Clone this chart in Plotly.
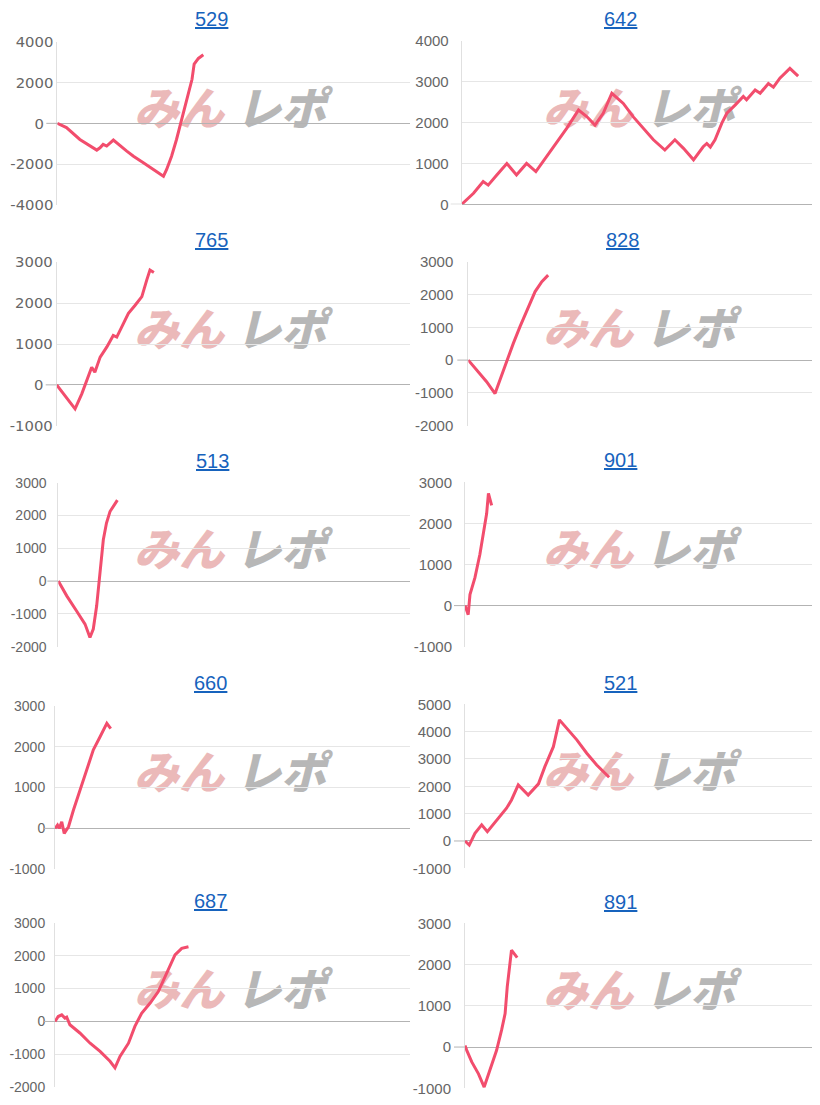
import plotly.graph_objects as go

W, H = 820, 1105
OFF = 8  # page body margin: screen px = figure px + OFF

# ---------------- data (x = progress along the axis, 0-100; y = 差枚) ----------------
titles = ["529", "642", "765", "828", "513", "901", "660", "521", "687", "891"]

x_529 = [0, 2.6, 6.4, 8.8, 11.2, 12.1, 13.0, 14.0, 15.9, 19.7, 21.6, 24.4, 27.2, 30.1, 31.0, 32.4, 33.8, 35.3, 36.7, 38.2, 38.8, 40.0, 41.4]
y_529 = [0, -210, -790, -1070, -1310, -1200, -1030, -1110, -820, -1360, -1610, -1930, -2260, -2590, -2260, -1610, -790, 200, 1180, 2160, 2900, 3180, 3360]

x_642 = [0, 3.3, 6.0, 7.4, 9.8, 12.6, 15.3, 18.1, 20.7, 23.7, 26.5, 29.3, 32.6, 34.9, 37.2, 39.5, 41.9, 45.1, 47.9, 50.7, 53.5, 56.7, 59.5, 61.9, 64.7, 67.4, 68.4, 69.4, 70.7, 72.6, 74.0, 76.3, 78.6, 79.5, 81.9, 83.3, 85.6, 87.0, 88.8, 91.6, 93.9]
y_642 = [0, 270, 555, 470, 720, 1000, 720, 1000, 800, 1170, 1490, 1860, 2310, 2150, 1940, 2230, 2720, 2470, 2140, 1860, 1580, 1330, 1580, 1370, 1090, 1410, 1490, 1400, 1580, 1990, 2230, 2430, 2640, 2560, 2800, 2720, 2960, 2870, 3090, 3330, 3140]

x_765 = [0, 2.4, 5.2, 7.1, 8.5, 9.9, 10.8, 12.3, 14.2, 16.0, 17.0, 18.4, 20.3, 22.2, 24.1, 25.5, 26.4, 27.5]
y_765 = [0, -260, -590, -220, 110, 430, 310, 680, 930, 1210, 1170, 1420, 1750, 1950, 2160, 2570, 2810, 2750]

x_828 = [0, 2.4, 5.2, 7.6, 9.0, 10.9, 12.8, 14.7, 17.1, 19.0, 20.9, 22.7]
y_828 = [0, -305, -660, -1020, -610, 0, 510, 1020, 1630, 2090, 2390, 2590]

x_513 = [0, 2.4, 5.2, 7.6, 9.0, 9.95, 10.9, 11.8, 12.8, 13.7, 14.7, 16.8]
y_513 = [0, -450, -910, -1310, -1720, -1460, -760, 250, 1260, 1770, 2120, 2470]

x_901 = [0, 0.9, 1.4, 2.8, 4.2, 5.2, 6.1, 6.6, 7.5]
y_901 = [0, -220, 270, 680, 1250, 1750, 2240, 2730, 2440]

x_660 = [0, 0.7, 1.2, 1.9, 2.6, 3.8, 5.2, 7.0, 8.9, 10.8, 12.7, 14.6, 15.7]
y_660 = [0, 80, 0, 160, -120, 40, 450, 940, 1430, 1920, 2240, 2570, 2440]

x_521 = [0, 1.2, 2.8, 4.7, 6.3, 8.9, 11.7, 13.1, 15.0, 17.8, 20.7, 22.5, 24.9, 26.6, 28.6, 31.5, 34.3, 37.1, 40.6]
y_521 = [0, -150, 280, 590, 340, 770, 1200, 1500, 2050, 1680, 2090, 2720, 3450, 4430, 4120, 3700, 3210, 2780, 2330]

x_687 = [0, 0.9, 1.9, 2.8, 3.3, 3.8, 4.2, 7.0, 9.9, 12.7, 15.5, 16.9, 18.3, 20.7, 22.5, 24.4, 26.8, 29.1, 31.5, 33.8, 35.7, 37.6]
y_687 = [0, 150, 200, 100, 130, 0, -100, -350, -660, -910, -1210, -1410, -1060, -660, -150, 250, 560, 910, 1460, 2020, 2220, 2270]

x_891 = [0, 0.5, 1.9, 3.8, 5.4, 7.0, 8.9, 10.3, 11.3, 11.9, 12.7, 13.1, 14.7]
y_891 = [40, -80, -360, -650, -970, -570, -80, 410, 810, 1460, 2110, 2350, 2170]

series_x = [x_529, x_642, x_765, x_828, x_513, x_901, x_660, x_521, x_687, x_891]
series_y = [y_529, y_642, y_765, y_828, y_513, y_901, y_660, y_521, y_687, y_891]

y_ranges = [(-4000, 4000), (0, 4000), (-1000, 3000), (-2000, 3000), (-2000, 3000),
            (-1000, 3000), (-1000, 3000), (-1000, 5000), (-2000, 3000), (-1000, 3000)]
y_steps = [2000, 1000, 1000, 1000, 1000, 1000, 1000, 1000, 1000, 1000]

# ---------------- layout geometry (screen pixels) ----------------
# left axis x, right edge, top, bottom, title center x, title y, label standoff, label style
geom = [
    (57.3, 410, 41.7, 205.0, 211.7, 19.5, 0, "wide"),
    (461.7, 820, 41.0, 204.3, 620.7, 19.5, 9, "norm"),
    (56.7, 410, 262.3, 425.7, 211.0, 240.0, 0, "wide"),
    (468.3, 820, 261.7, 425.7, 622.7, 240.0, 11, "norm"),
    (58.3, 410, 482.7, 646.7, 212.7, 460.7, 8, "small"),
    (465.0, 820, 482.3, 646.7, 620.0, 460.0, 9, "norm"),
    (55.0, 410, 705.7, 869.3, 210.0, 683.3, 6, "small"),
    (465.0, 820, 704.3, 868.3, 620.0, 682.7, 10, "norm"),
    (55.0, 410, 922.7, 1087.3, 210.0, 900.7, 6, "small"),
    (465.0, 820, 923.3, 1088.3, 620.0, 901.7, 10, "norm"),
]

LINE = "#f24d6d"
GRID = "#e6e6e6"
ZERO = "#b3b3b3"
AXISLINE = "#e0e0e0"
TICKC = "#666666"
TITLEC = "#1763bd"
PINK = "#ebb9b9"
GREY = "#b7b7b7"

fig = go.Figure()
layout = dict(
    width=W, height=H,
    margin=dict(l=0, r=0, t=0, b=0, pad=0, autoexpand=False),
    paper_bgcolor="white",
    plot_bgcolor="rgba(0,0,0,0)",
    showlegend=False,
    annotations=[], shapes=[],
)

def px_x(p):
    return (p - OFF) / W

def px_y(p):
    return 1 - (p - OFF) / H

for i in range(10):
    n = i + 1
    xa = "x" if n == 1 else f"x{n}"
    ya = "y" if n == 1 else f"y{n}"
    left, right, top, bot, tx, ty, standoff, style = geom[i]
    lo, hi = y_ranges[i]
    step = y_steps[i]
    tv = list(range(lo, hi + 1, step))
    if style == "wide":
        tt = [("0\u00a0\u00a0" if v == 0 else str(v)) for v in tv]
        tfont = dict(family="DejaVu Sans", size=14.8, color=TICKC)
    elif style == "small":
        tt = [str(v) for v in tv]
        tfont = dict(family="Liberation Sans, Arial", size=14, color=TICKC)
    else:
        tt = [str(v) for v in tv]
        tfont = dict(family="Liberation Sans, Arial", size=15, color=TICKC)

    fig.add_trace(go.Scatter(
        x=series_x[i], y=series_y[i], mode="lines",
        line=dict(color=LINE, width=3), xaxis=xa, yaxis=ya,
        hoverinfo="skip", showlegend=False,
    ))

    layout["xaxis" if n == 1 else f"xaxis{n}"] = dict(
        domain=[px_x(left), min(px_x(right), 1.0)], range=[0, 100], visible=False,
        anchor=ya, fixedrange=True, automargin=False,
    )
    layout["yaxis" if n == 1 else f"yaxis{n}"] = dict(
        domain=[px_y(bot), px_y(top)], range=[lo, hi], anchor=xa,
        tickmode="array", tickvals=tv, ticktext=tt, tickfont=tfont,
        showgrid=True, gridcolor=GRID, gridwidth=1,
        zeroline=True, zerolinecolor=ZERO, zerolinewidth=1,
        showline=True, linecolor=AXISLINE, linewidth=1,
        ticks="", ticklabelstandoff=standoff, fixedrange=True, automargin=False,
    )

    # zero tick extension to the left of the axis
    layout["shapes"].append(dict(
        type="line", xref="paper", yref=ya,
        x0=px_x(left - 11), x1=px_x(left), y0=0, y1=0,
        line=dict(color=ZERO, width=1),
    ))

    # title (link style)
    layout["annotations"].append(dict(
        text=f"<u>{titles[i]}</u>", xref="paper", yref="paper",
        x=px_x(tx), y=px_y(ty), xanchor="center", yanchor="middle",
        showarrow=False, font=dict(family="Liberation Sans, Arial", size=20, color=TITLEC),
    ))

    # watermark (below traces)
    cy = top + 71
    base = 0 if left < 300 else 409
    for cx, txt, col in ((base + 179, "みん", PINK), (base + 281, "レポ", GREY)):
        layout["shapes"].append(dict(
            type="rect", xref="paper", yref="paper", layer="below",
            x0=px_x(cx - 50), x1=px_x(cx + 50), y0=px_y(cy + 20), y1=px_y(cy - 20),
            line=dict(width=0), fillcolor="rgba(0,0,0,0)",
            label=dict(text=txt, textposition="middle center",
                       font=dict(family="Noto Sans CJK JP", size=45, color=col,
                                 weight=900, style="italic")),
        ))

fig.update_layout(**layout)
fig.write_html("out.html")
